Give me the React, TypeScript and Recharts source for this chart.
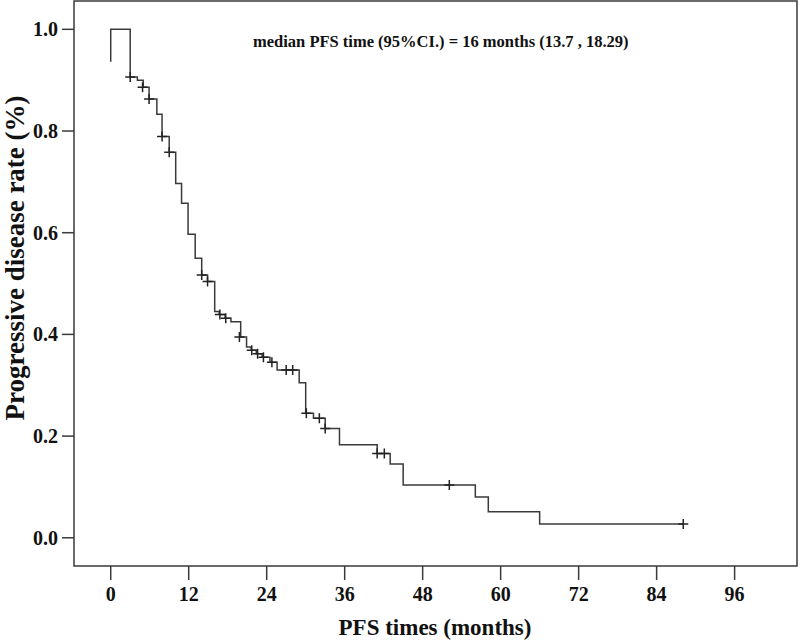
import {
  ComposedChart,
  Line,
  Scatter,
  XAxis,
  YAxis,
  ReferenceArea,
  Label,
} from "recharts";

// Kaplan-Meier steps (months, proportion without progression)
const stepTimes = [
  0, 0, 3.0, 4.1, 5.0, 5.9, 7.1, 7.9, 9.0, 10.0, 10.9, 11.9, 13.0, 14.0, 14.9,
  16.0, 16.7, 17.6, 18.5, 20.0, 20.9, 21.6, 22.4, 23.3, 24.5, 25.6, 29.0, 30.0,
  31.2, 33.0, 35.2, 41.0, 43.0, 45.0, 56.1, 58.1, 66.0, 88.1,
];
const stepSurv = [
  0.936, 1.0, 0.906, 0.9, 0.886, 0.863, 0.833, 0.789, 0.758, 0.697, 0.658,
  0.597, 0.55, 0.517, 0.504, 0.445, 0.439, 0.432, 0.425, 0.395, 0.375, 0.369,
  0.362, 0.355, 0.345, 0.33, 0.305, 0.245, 0.235, 0.215, 0.183, 0.166, 0.145,
  0.104, 0.08, 0.051, 0.027, 0.027,
];

// censored observations
const censorTimes = [
  3.0, 4.9, 5.9, 7.9, 9.0, 14.0, 14.9, 16.8, 17.7, 19.8, 21.7, 22.6, 23.5,
  24.8, 27.0, 28.0, 30.1, 32.1, 33.0, 41.0, 42.1, 52.1, 88.1,
];
const censorSurv = [
  0.906, 0.886, 0.863, 0.789, 0.758, 0.517, 0.504, 0.439, 0.432, 0.395, 0.369,
  0.362, 0.355, 0.345, 0.33, 0.33, 0.245, 0.235, 0.215, 0.166, 0.166, 0.104,
  0.027,
];

const xTicks = [0, 12, 24, 36, 48, 60, 72, 84, 96];
const yTicks = [0, 0.2, 0.4, 0.6, 0.8, 1.0];

const X_MIN = -5.65;
const X_MAX = 105.6;
const Y_MIN = -0.0555;
const Y_MAX = 1.0557;

const steps = stepTimes.map((t, i) => ({ t, s: stepSurv[i] }));
const censors = censorTimes.map((t, i) => ({ t, s: censorSurv[i] }));

const FONT = "'Liberation Serif', 'DejaVu Serif', serif";
const INK = "#3a3a3a";

const Plus = (props: any) => {
  const { cx, cy } = props;
  return (
    <path
      d={`M${cx - 5},${cy}h10M${cx},${cy - 5}v10`}
      stroke="#222"
      strokeWidth={1.5}
    />
  );
};

const App = () => {
  return (
    <div style={{ position: "absolute", left: 0, top: 0, background: "#fff" }}>
      <ComposedChart
        width={800}
        height={644}
        margin={{ top: 1, right: 3, bottom: 0, left: 0 }}
        style={{ fontFamily: FONT }}
      >
        <XAxis
          type="number"
          dataKey="t"
          domain={[X_MIN, X_MAX]}
          ticks={xTicks}
          allowDataOverflow
          height={78}
          axisLine={false}
          tickSize={14}
          tickMargin={7}
          tickLine={{ stroke: INK, strokeWidth: 1.5 }}
          tick={{ fill: "#111", fontSize: 20, fontWeight: 700, fontFamily: FONT }}
        >
          <Label
            content={() => (
              <text
                x={435}
                y={635}
                textAnchor="middle"
                fontSize={23}
                fontWeight={700}
                fontFamily={FONT}
                fill="#111"
              >
                PFS times (months)
              </text>
            )}
          />
        </XAxis>
        <YAxis
          type="number"
          dataKey="s"
          domain={[Y_MIN, Y_MAX]}
          ticks={yTicks}
          allowDataOverflow
          width={74}
          axisLine={false}
          tickSize={12}
          tickMargin={4}
          tickFormatter={(v: number) => v.toFixed(1)}
          tickLine={{ stroke: INK, strokeWidth: 1.5 }}
          tick={{ fill: "#111", fontSize: 20, fontWeight: 700, fontFamily: FONT }}
        >
          <Label
            content={() => (
              <text
                x={24}
                y={258}
                transform="rotate(-90 24 258)"
                textAnchor="middle"
                fontSize={27}
                fontWeight={700}
                fontFamily={FONT}
                fill="#111"
              >
                Progressive disease rate (%)
              </text>
            )}
          />
        </YAxis>
        <ReferenceArea
          x1={X_MIN}
          x2={X_MAX}
          y1={Y_MIN}
          y2={Y_MAX}
          fill="none"
          stroke={INK}
          strokeWidth={1.5}
          ifOverflow="visible"
        >
          <Label
            content={() => (
              <text
                x={253}
                y={47}
                textAnchor="start"
                fontSize={16.5}
                fontWeight={700}
                fontFamily={FONT}
                fill="#111"
              >
                median PFS time (95%CI.) = 16 months (13.7 , 18.29)
              </text>
            )}
          />
        </ReferenceArea>
        <Line
          data={steps}
          dataKey="s"
          type="stepAfter"
          stroke={INK}
          strokeWidth={1.5}
          dot={false}
          activeDot={false}
          isAnimationActive={false}
        />
        <Scatter
          data={censors}
          dataKey="s"
          shape={<Plus />}
          isAnimationActive={false}
        />
      </ComposedChart>
    </div>
  );
};

export default App;
